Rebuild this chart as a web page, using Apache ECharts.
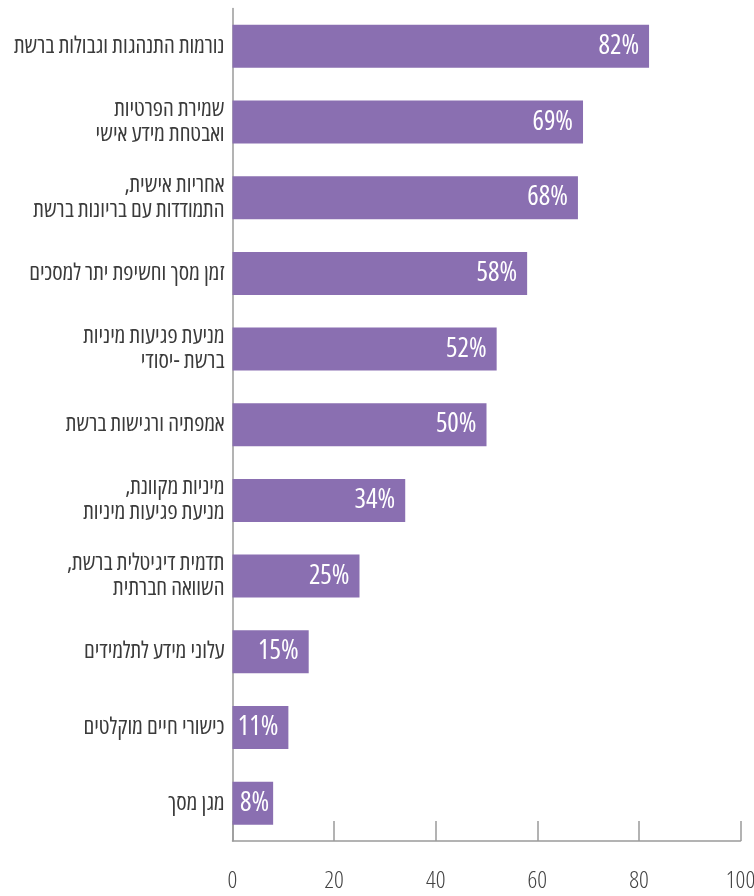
<!DOCTYPE html>
<html lang="he">
<head>
<meta charset="utf-8">
<script src="https://cdn.jsdelivr.net/npm/echarts@6/dist/echarts.min.js"></script>
<style>
html,body{margin:0;padding:0;background:#fff;}
#chart{width:754px;height:896px;}
</style>
</head>
<body>
<div id="chart" dir="rtl"></div>
<script>
const categories = [
  'נורמות התנהגות וגבולות ברשת',
  'שמירת הפרטיות\nואבטחת מידע אישי',
  'אחריות אישית,\nהתמודדות עם בריונות ברשת',
  'זמן מסך וחשיפת יתר למסכים',
  'מניעת פגיעות מיניות\nברשת -יסודי',
  'אמפתיה ורגישות ברשת',
  'מיניות מקוונת,\nמניעת פגיעות מיניות',
  'תדמית דיגיטלית ברשת,\nהשוואה חברתית',
  'עלוני מידע לתלמידים',
  'כישורי חיים מוקלטים',
  'מגן מסך'
];
const values = [82, 69, 68, 58, 52, 50, 34, 25, 15, 11, 8];
const xTicks = { min: 0, max: 100, interval: 20 };

const FONT = '"Open Sans", sans-serif';
const chart = echarts.init(document.getElementById('chart'), null, { renderer: 'canvas' });
chart.setOption({
  animation: false,
  grid: { left: 232.5, right: 13.5, top: 8.5, bottom: 55, outerBoundsMode: 'none', containLabel: false },
  xAxis: {
    type: 'value',
    min: xTicks.min, max: xTicks.max, interval: xTicks.interval,
    splitLine: { show: false },
    axisLine: { show: true, lineStyle: { color: '#9a9a9a', width: 1.5 } },
    axisTick: { show: true, inside: true, length: 20, lineStyle: { color: '#9a9a9a', width: 1.5 } },
    axisLabel: { color: '#444', fontSize: 24, fontWeight: '300 condensed', fontFamily: FONT, margin: 28 }
  },
  yAxis: {
    type: 'category',
    inverse: true,
    data: categories,
    axisLine: { show: true, lineStyle: { color: '#9a9a9a', width: 1.5 } },
    axisTick: { show: false },
    axisLabel: { color: '#3a3a3a', fontSize: 23, lineHeight: 25, fontWeight: '400 condensed', fontFamily: FONT, margin: 8, align: 'right' }
  },
  series: [{
    type: 'bar',
    data: values.map(v => ({
      value: v,
      label: v < 10 ? { distance: 4 } : undefined
    })),
    barWidth: 43,
    itemStyle: { color: '#8a6fb1' },
    label: {
      show: true,
      position: 'insideRight',
      distance: 10,
      color: '#fff',
      fontSize: 27,
      fontWeight: '400 condensed',
      fontFamily: FONT,
      formatter: '{c}%'
    }
  }]
});
</script>
</body>
</html>
